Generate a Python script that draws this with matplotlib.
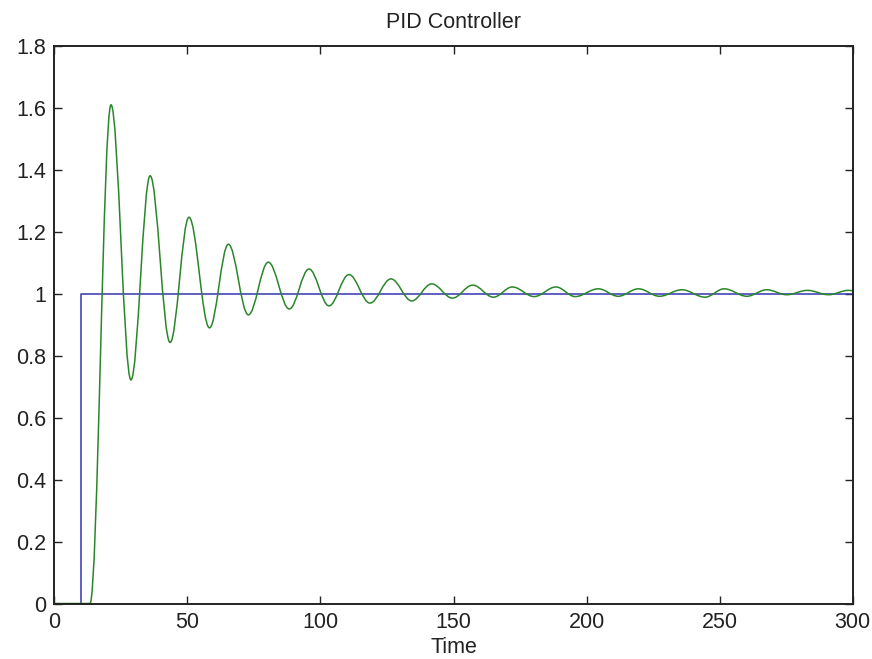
import numpy as np
import matplotlib
matplotlib.use('Agg')
import matplotlib.pyplot as plt
from matplotlib.path import Path
from matplotlib.patches import PathPatch

plt.rcParams['font.family'] = ['Liberation Sans', 'DejaVu Sans']

# ── data ─────────────────────────────────────────────────────────────────
# setpoint (step at t = 10)
ref_t = [0, 10, 10, 300]
ref_y = [0, 0, 1, 1]

# closed-loop response: flat at 0 until it leaves the axis, then the
# successive peaks / troughs of the oscillation
flat_t = [0, 13.4]
flat_y = [0, 0]
ext_t = [13.4, 21.3, 28.8, 36.0, 43.5, 50.6, 58.3, 65.4, 72.9, 80.4,
         88.3, 95.7, 103.2, 110.7, 118.6, 126.5, 134.3, 141.8, 149.6, 157.2,
         165.0, 172.1, 180.3, 188.5, 195.7, 204.4, 211.9, 219.5, 227.4, 235.8,
         244.5, 251.7, 260.2, 267.7, 275.2, 283.0, 290.9, 298.4, 306.0]
ext_y = [0.0, 1.61, 0.722, 1.381, 0.843, 1.247, 0.890, 1.160, 0.932, 1.102,
         0.951, 1.080, 0.961, 1.062, 0.970, 1.048, 0.977, 1.032, 0.986, 1.028,
         0.989, 1.022, 0.991, 1.022, 0.991, 1.016, 0.992, 1.016, 0.992, 1.013,
         0.989, 1.016, 0.992, 1.013, 0.997, 1.011, 0.997, 1.011, 0.997]

x_ticks = [0, 50, 100, 150, 200, 250, 300]
x_labels = ['0', '50', '100', '150', '200', '250', '300']
y_ticks = [0, 0.2, 0.4, 0.6, 0.8, 1.0, 1.2, 1.4, 1.6, 1.8]
y_labels = ['0', '0.2', '0.4', '0.6', '0.8', '1', '1.2', '1.4', '1.6', '1.8']

BLUE = '#3434b4'
GREEN = '#2a862a'

# ── figure ───────────────────────────────────────────────────────────────
fig = plt.figure(figsize=(8.72, 6.59), dpi=100)
ax = fig.add_axes([0.0623, 0.0842, 0.9156, 0.846])

ax.plot(ref_t, ref_y, color=BLUE, linewidth=1.1, zorder=2)

# smooth response: horizontal tangents at each extremum (cubic bezier segments)
verts = [(flat_t[0], flat_y[0]), (flat_t[1], flat_y[1])]
codes = [Path.MOVETO, Path.LINETO]
k = 0.364
for t0, y0, t1, y1 in zip(ext_t[:-1], ext_y[:-1], ext_t[1:], ext_y[1:]):
    dt = t1 - t0
    verts += [(t0 + k * dt, y0), (t1 - k * dt, y1), (t1, y1)]
    codes += [Path.CURVE4] * 3
ax.add_patch(PathPatch(Path(verts, codes), facecolor='none',
                       edgecolor=GREEN, linewidth=1.1, zorder=2))

ax.set_xlim(0, 300)
ax.set_ylim(0, 1.8)
ax.set_xticks(x_ticks)
ax.set_xticklabels(x_labels)
ax.set_yticks(y_ticks)
ax.set_yticklabels(y_labels)
ax.tick_params(direction='in', length=6, width=1, top=True, right=True,
               labelsize=15.5, colors='#222222', pad=6)
for s in ax.spines.values():
    s.set_linewidth(1.4)
    s.set_color('#222222')
    s.set_zorder(5)

ax.set_title('PID Controller', fontsize=15.5, pad=13, color='#222222')
ax.set_xlabel('Time', fontsize=15.5, labelpad=3, color='#222222')

fig.savefig('out.png', dpi=100)
